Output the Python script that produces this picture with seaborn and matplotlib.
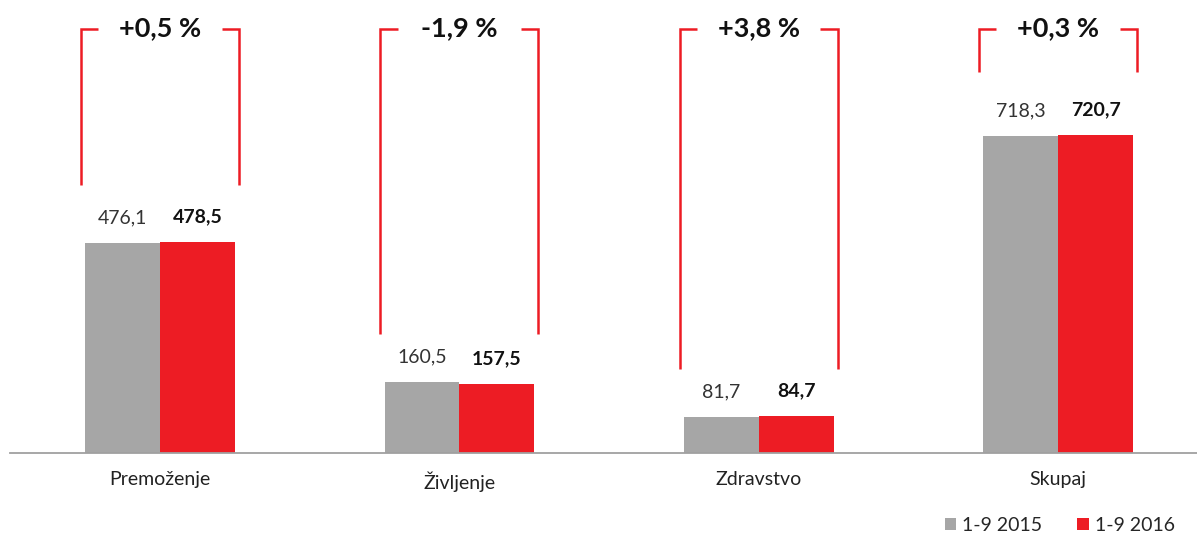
import matplotlib
matplotlib.use("Agg")
import matplotlib.pyplot as plt
import seaborn as sns
import pandas as pd

categories = ["Premoženje", "Življenje", "Zdravstvo", "Skupaj"]
series_names = ["1-9 2015", "1-9 2016"]
values_2015 = [476.1, 160.5, 81.7, 718.3]
values_2016 = [478.5, 157.5, 84.7, 720.7]
change_labels = ["+0,5 %", "-1,9 %", "+3,8 %", "+0,3 %"]

GRAY = "#A6A6A6"
RED = "#ED1C24"

sns.set_theme(style="white")
plt.rcParams["font.family"] = ["Lato", "DejaVu Sans"]

df = pd.DataFrame({
    "category": categories * 2,
    "period": [series_names[0]] * 4 + [series_names[1]] * 4,
    "value": values_2015 + values_2016,
})

fig = plt.figure(figsize=(11.97, 5.38), dpi=100)
ax = fig.add_axes([10 / 1197, 85 / 538, 1187 / 1197, 453 / 538])

sns.barplot(data=df, x="category", y="value", hue="period",
            palette=[GRAY, RED], width=0.5, saturation=1, ax=ax,
            edgecolor="none", linewidth=0, legend=True)

ax.set_xlim(-0.501, 3.464)
ytop = 1027
ax.set_ylim(0, ytop)

# value labels
fmt = lambda v: f"{v:.1f}".replace(".", ",")
ax.bar_label(ax.containers[0], labels=[fmt(v) for v in values_2015],
             padding=12, fontsize=14, color="#333333")
ax.bar_label(ax.containers[1], labels=[fmt(v) for v in values_2016],
             padding=12, fontsize=14, color="#111111", fontweight="bold")

# brackets
top_y = ytop * 0.937
half = 0.264
tick = 0.058
for i, (a, b, lab) in enumerate(zip(values_2015, values_2016, change_labels)):
    bottom = max(a, b) * 1.06 + 100
    xl, xr = i - half, i + half
    ax.plot([xl, xl, xl + tick], [bottom, top_y, top_y], color=RED, lw=1.8,
            solid_joinstyle="miter", solid_capstyle="butt")
    ax.plot([xr - tick, xr, xr], [top_y, top_y, bottom], color=RED, lw=1.8,
            solid_joinstyle="miter", solid_capstyle="butt")
    ax.text(i, top_y, lab, ha="center", va="center", fontsize=19.5,
            fontweight="bold", color="#111111")

for s in ["top", "left", "right"]:
    ax.spines[s].set_visible(False)
ax.spines["bottom"].set_color("#A0A0A0")
ax.spines["bottom"].set_linewidth(1.3)
ax.set_yticks([])
ax.set_xlabel("")
ax.set_ylabel("")
ax.tick_params(axis="x", length=0, pad=13, labelsize=14, labelcolor="#222222")

handles, labels = ax.get_legend_handles_labels()
ax.get_legend().remove()
fig.legend(handles, labels, loc="lower right", bbox_to_anchor=(0.996, -0.025),
           ncol=2, frameon=False, fontsize=14, handlelength=0.6,
           handleheight=0.6, handletextpad=0.3, columnspacing=1.8)

fig.savefig("out.png", dpi=100)
